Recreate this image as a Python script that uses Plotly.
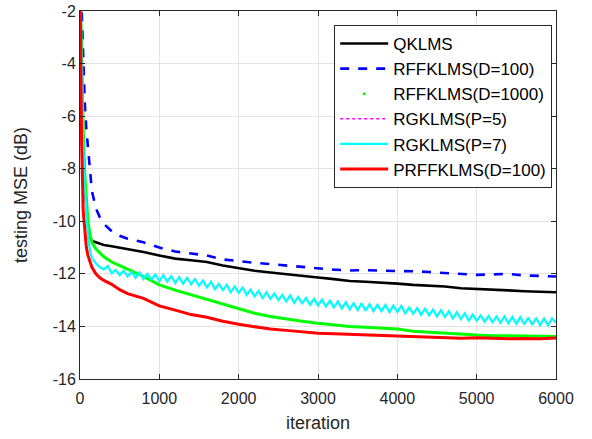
import plotly.graph_objects as go

# ---- data ----
iters = [0, 20, 40, 60, 80, 100, 125, 150, 200, 250, 300, 400, 500, 600,
         800, 1000, 1200, 1400, 1600, 1800, 2000, 2200, 2400, 2600, 2800,
         3000, 3200, 3400, 3600, 3800, 4000, 4200, 4400, 4600, 4800, 5000,
         5200, 5400, 5600, 5800, 6000]

qklms = [-1, -4.5, -7, -8.6, -9.6, -10.2, -10.6, -10.75, -10.8, -10.85, -10.9,
         -10.95, -11.0, -11.05, -11.17, -11.3, -11.42, -11.48, -11.55, -11.68,
         -11.78, -11.88, -11.95, -12.02, -12.08, -12.14, -12.2, -12.27, -12.3,
         -12.33, -12.37, -12.42, -12.45, -12.48, -12.55, -12.57, -12.6, -12.63,
         -12.66, -12.68, -12.7]

rff100 = [0, -2, -4, -5.5, -6.5, -7.2, -8.0, -8.85, -9.5, -9.85, -10.1, -10.38,
          -10.55, -10.66, -10.8, -11.0, -11.15, -11.22, -11.3, -11.45, -11.52,
          -11.58, -11.63, -11.68, -11.73, -11.8, -11.84, -11.87, -11.86, -11.88,
          -11.88, -11.9, -11.93, -11.96, -12.0, -12.04, -12.02, -12.0, -12.06,
          -12.08, -12.1]

rff1000 = [-1, -4, -6.5, -8.2, -9.3, -10.0, -10.5, -10.8, -11.05, -11.22, -11.35,
           -11.55, -11.7, -11.82, -12.1, -12.42, -12.62, -12.8, -12.98, -13.15,
           -13.33, -13.5, -13.62, -13.72, -13.8, -13.88, -13.95, -14.0, -14.03,
           -14.07, -14.1, -14.18, -14.22, -14.26, -14.3, -14.33, -14.35, -14.36,
           -14.37, -14.37, -14.38]

prff100 = [-1, -7, -9.6, -10.5, -11.0, -11.3, -11.55, -11.75, -12.0, -12.15,
           -12.25, -12.4, -12.6, -12.75, -12.93, -13.22, -13.38, -13.55, -13.65,
           -13.8, -13.92, -14.02, -14.1, -14.15, -14.2, -14.26, -14.28, -14.3,
           -14.33, -14.35, -14.37, -14.38, -14.42, -14.44, -14.45, -14.43, -14.46,
           -14.47, -14.46, -14.47, -14.44]

rg_iters = [0, 20, 40, 60, 80, 100, 125, 150, 200, 250] + list(range(300, 6001, 50))
rg7 = [-1, -4.5, -7, -8.7, -9.8, -10.6, -11.1, -11.4, -11.6, -11.75,
       -11.83, -11.70, -11.98, -11.85, -12.05, -11.88, -12.10, -11.92,
       -12.15, -11.95, -12.20, -12.00, -12.22, -12.02, -12.28, -12.05,
       -12.30, -12.08, -12.35, -12.12, -12.38, -12.15, -12.40, -12.20,
       -12.45, -12.25, -12.52, -12.30, -12.58, -12.38, -12.62, -12.42,
       -12.70, -12.48, -12.72, -12.52, -12.80, -12.60, -12.85, -12.65,
       -12.92, -12.70, -12.95, -12.75, -13.00, -12.80, -13.05, -12.82,
       -13.10, -12.88, -13.12, -12.92, -13.18, -12.95, -13.20, -12.98,
       -13.25, -13.02, -13.28, -13.05, -13.32, -13.08, -13.35, -13.12,
       -13.38, -13.12, -13.40, -13.15, -13.42, -13.18, -13.42, -13.18,
       -13.45, -13.20, -13.45, -13.22, -13.50, -13.28, -13.52, -13.30,
       -13.56, -13.32, -13.58, -13.36, -13.62, -13.38, -13.64, -13.42,
       -13.70, -13.46, -13.72, -13.50, -13.78, -13.55, -13.78, -13.58,
       -13.82, -13.60, -13.84, -13.62, -13.86, -13.62, -13.88, -13.64,
       -13.90, -13.65, -13.92, -13.66, -13.94, -13.68, -13.95, -13.70,
       -13.96, -13.70, -13.85]
rg5 = rg7  # hidden beneath RGKLMS(P=7) in the reference

x_ticks = [0, 1000, 2000, 3000, 4000, 5000, 6000]
y_ticks = [-16, -14, -12, -10, -8, -6, -4, -2]

fig = go.Figure()
fig.add_trace(go.Scatter(x=iters, y=qklms, mode="lines", name="QKLMS",
                         line=dict(color="black", width=2.6)))
fig.add_trace(go.Scatter(x=iters, y=rff100, mode="lines", name="RFFKLMS(D=100)",
                         line=dict(color="#0000ff", width=2.6, dash="dash")))
fig.add_trace(go.Scatter(x=iters, y=rff1000, mode="lines", name="RFFKLMS(D=1000)",
                         showlegend=False, line=dict(color="#00ff00", width=3)))
fig.add_trace(go.Scatter(x=[None], y=[None], mode="markers", name="RFFKLMS(D=1000)",
                         marker=dict(color="#00ff00", size=3)))
fig.add_trace(go.Scatter(x=rg_iters, y=rg5, mode="lines", name="RGKLMS(P=5)",
                         line=dict(color="#ff00ff", width=1.5, dash="dot")))
fig.add_trace(go.Scatter(x=rg_iters, y=rg7, mode="lines", name="RGKLMS(P=7)",
                         line=dict(color="#00ffff", width=2.2)))
fig.add_trace(go.Scatter(x=iters, y=prff100, mode="lines", name="PRFFKLMS(D=100)",
                         line=dict(color="#ff0000", width=3)))

axis_common = dict(showline=True, linecolor="#262626", linewidth=1, mirror="allticks",
                   ticks="inside", ticklen=5, tickcolor="#262626",
                   showgrid=True, gridcolor="#e3e3e3", gridwidth=1, zeroline=False,
                   automargin=False,
                   tickfont=dict(size=16, color="#262626"))

fig.update_xaxes(range=[0, 6000], tickvals=x_ticks, ticktext=[str(v) for v in x_ticks],
                 ticklabelstandoff=5,
                 title=dict(text="iteration", font=dict(size=18, color="#262626"), standoff=10),
                 **axis_common)
fig.update_yaxes(range=[-16, -2], tickvals=y_ticks, ticktext=[str(v) for v in y_ticks],
                 title=dict(text="testing MSE (dB)", font=dict(size=18, color="#262626"), standoff=20),
                 **axis_common)

fig.update_layout(
    width=592, height=439,
    margin=dict(l=80, r=36, t=11, b=60, autoexpand=False),
    paper_bgcolor="white", plot_bgcolor="white",
    font=dict(family="Arial, Liberation Sans, sans-serif", color="#262626"),
    legend=dict(x=0.992, y=0.962, xanchor="right", yanchor="top",
                bgcolor="white", bordercolor="#262626", borderwidth=1,
                font=dict(size=17, color="black"), tracegroupgap=0,
                itemwidth=48),
)

fig.write_html("out.html", config={"displayModeBar": False},
               post_script="document.body.style.margin='0';")
